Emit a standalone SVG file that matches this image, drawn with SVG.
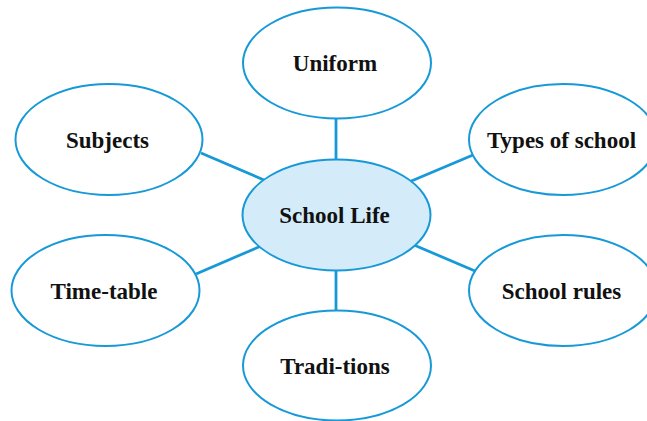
<svg xmlns="http://www.w3.org/2000/svg" width="647" height="421" viewBox="0 0 647 421">
<style>
.n{fill:#ffffff;stroke:#1799d8;stroke-width:2}
.c{fill:#d4ecfa;stroke:#1799d8;stroke-width:2}
.l{stroke:#1799d8;stroke-width:2.8;fill:none}
text{font-family:"Liberation Serif","Times New Roman",serif;font-weight:bold;font-size:23px;fill:#111;text-anchor:middle}
</style>
<rect width="647" height="421" fill="#ffffff"/>
<g id="connectors">
<line class="l" x1="336" y1="119" x2="336" y2="160"/>
<line class="l" x1="336" y1="270" x2="336" y2="310"/>
<line class="l" x1="201" y1="153" x2="264" y2="180"/>
<line class="l" x1="196" y1="274" x2="261" y2="246"/>
<line class="l" x1="409" y1="182" x2="473" y2="155"/>
<line class="l" x1="414" y1="245" x2="475" y2="271"/>
</g>
<g id="uniform"><ellipse class="n" cx="337" cy="63" rx="94" ry="55.5"/><text x="335" y="71">Uniform</text></g>
<g id="subjects"><ellipse class="n" cx="109" cy="139.5" rx="93.5" ry="55.5"/><text x="107.5" y="147.5">Subjects</text></g>
<g id="types"><ellipse class="n" cx="563" cy="139.5" rx="94" ry="55.5"/><text x="561.5" y="147.5">Types of school</text></g>
<g id="schoollife"><ellipse class="c" cx="336.5" cy="215" rx="94" ry="55.5"/><text x="334.5" y="223">School Life</text></g>
<g id="timetable"><ellipse class="n" cx="105.5" cy="290.5" rx="94" ry="55.5"/><text x="104" y="298.5">Time-table</text></g>
<g id="rules"><ellipse class="n" cx="563" cy="290.5" rx="94" ry="55.5"/><text x="561.5" y="298.5">School rules</text></g>
<g id="traditions"><ellipse class="n" cx="337" cy="365.5" rx="94" ry="55"/><text x="335" y="373.5">Tradi-tions</text></g>
</svg>
